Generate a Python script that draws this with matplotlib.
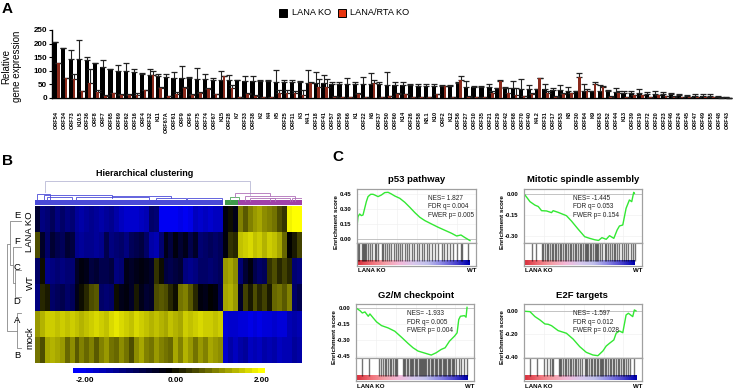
import numpy as np
import matplotlib
matplotlib.use('Agg')
import matplotlib.pyplot as plt
from matplotlib.colors import LinearSegmentedColormap

plt.rcParams['font.family'] = ['Liberation Sans', 'DejaVu Sans']

W, H = 733, 390

# panel A
genes = ['ORF54','ORF34','ORF73','K10.5','ORF36','ORF8','ORF7','ORF65','ORF69','ORF62','ORF16','ORF4','ORF32','K11',
         'ORF67A','ORF61','ORF9','ORF6','ORF75','ORF74','ORF67','K15','ORF28','K7','ORF33','ORF38','K2','K4','K5',
         'ORF25','ORF11','K3','K4.1','ORF18','ORF41','ORF57','ORF59','ORF66','K1','ORF22','K6','ORF37','ORF50',
         'ORF60','K14','ORF26','ORF58','K8.1','K10','ORF2','K12','ORF56','ORF27','ORF10','ORF35','ORF21','ORF29',
         'ORF42','ORF68','ORF70','ORF40','K4.2','ORF31','ORF17','ORF53','K8','ORF30','ORF64','K9','ORF63','ORF52',
         'ORF44','K13','ORF39','ORF19','ORF72','ORF20','ORF23','ORF46','ORF24','ORF45','ORF47','ORF49','ORF55',
         'ORF48','ORF43']
lana_ko = [205,182,145,143,140,128,115,105,100,100,97,88,85,80,78,75,74,72,70,70,68,68,66,65,63,62,62,62,60,60,59,58,
           56,55,55,53,52,52,52,50,50,50,48,48,47,46,45,45,45,44,43,55,41,40,40,40,35,35,35,34,33,32,32,30,28,27,27,27,
           26,26,24,23,20,18,18,16,15,14,13,10,8,8,8,7,3,3]
lana_rta = [128,72,70,25,55,22,8,18,12,10,12,28,83,35,7,15,35,12,17,33,14,80,35,3,15,8,3,2,20,20,18,12,55,40,40,5,3,3,
            15,3,55,3,7,15,14,4,2,2,14,43,2,68,5,3,3,20,62,18,10,8,15,73,20,5,15,17,78,25,52,40,5,20,3,10,10,4,10,6,5,
            3,3,4,4,3,1,1]
lana_ko_top = [207,183,175,212,150,130,140,107,122,130,107,93,105,88,90,97,117,78,110,90,74,98,83,68,82,80,68,68,103,
               68,66,62,103,95,83,57,60,75,60,77,92,58,94,60,57,53,50,50,53,46,46,58,62,43,43,52,35,40,62,70,46,32,50,
               38,46,40,27,50,26,48,30,37,25,25,32,22,27,22,20,14,11,14,14,13,6,5]
lana_rta_top = [130,75,90,27,105,30,10,20,15,14,20,30,100,40,8,22,40,14,22,38,16,82,48,4,18,10,4,3,30,30,24,30,57,70,
                70,7,4,4,17,4,66,4,8,17,16,5,3,3,16,45,3,80,6,4,4,27,66,38,37,9,17,75,25,7,17,20,92,32,57,45,6,25,4,12,
                12,5,12,8,6,4,4,5,5,4,2,1]

# panel B, rows top to bottom, columns in clustering order
row_e = [-.4,-1.0,-.9,-.7,-1.0,-.8,-1.0,-.9,-1.2,-1.3,-1.2,-1.1,-1.2,-1.3,-1.2,-1.1,-1.3,-1.5,-1.6,-1.6,-1.6,-1.5,-1.4,
         -.8,-.9,-1.9,-1.9,-1.9,-1.9,-1.8,-1.9,-1.8,-1.5,-1.6,-1.5,-1.6,-1.5,-1.5,
         -.1,.1,-.2,1.0,.7,1.0,1.2,1.3,1.1,1.0,.9,.6,.4,1.9,2.0,2.0]
row_f = [.6,-.3,-.8,-.4,-.6,-.7,-.4,-.5,-1.1,-1.2,-1.1,-1.1,-1.2,-1.1,-.6,-1.0,-.9,-.8,-1.0,-.7,-.6,-.5,-.8,-1.3,-1.4,
         -.9,-.2,-.5,-.1,-.4,-.2,-.6,-.3,-.9,-.8,-.7,-.8,-.7,
         -.1,.4,.3,1.5,1.6,1.7,1.5,1.6,1.4,1.6,1.5,1.3,.8,.0,.2,.5]
row_c = [-.8,.1,-1.1,-1.0,-.9,-1.0,-.9,-.9,-.3,-.1,-.2,-.5,-.4,-.6,-.6,-.5,-1.0,-.9,-.2,-.3,-.2,-.1,-.2,-.3,.4,.1,-.5,
         -.6,-.5,-.4,-1.0,-1.1,-1.0,-.8,-.8,-.9,-.8,-.7,
         1.2,1.3,1.1,-.9,-.4,-.1,-.6,-.8,-.7,.4,.6,.3,.5,.3,-.9,-1.0]
row_d = [-1.0,.3,.2,-.8,-.7,-.6,-.8,-.7,-.2,.1,.3,.6,.7,-.8,-.9,-.8,.1,-.2,-.1,-.3,.2,-.2,-.4,-.3,.6,.7,.6,.3,.1,.9,1.0,
         .7,.3,-.1,-.2,.0,-.1,-.6,
         1.3,1.4,1.2,-.3,.5,.2,.6,.3,.5,.2,.8,.9,.7,1.0,-.8,-.6]
row_a = [1.2,1.4,1.6,1.6,1.5,1.6,1.5,1.6,1.5,1.4,1.5,1.6,1.7,1.6,1.5,1.7,1.8,1.7,1.6,1.5,1.7,1.6,1.5,1.4,1.5,1.4,1.3,
         1.5,1.4,1.3,1.6,1.5,1.6,1.7,1.6,1.6,1.5,1.6,
         -1.7,-1.6,-1.6,-1.7,-1.7,-1.8,-1.7,-1.8,-1.7,-1.7,-1.6,-1.7,-1.7,-1.4,-1.3,-1.4]
row_b = [.9,.6,1.3,1.4,1.3,1.2,.8,1.1,.7,1.0,.8,1.0,.7,1.0,1.2,.9,.8,1.1,.9,.6,1.1,1.3,1.0,.9,1.2,1.0,.9,.8,1.3,1.0,1.4,
         1.2,.9,1.2,1.0,1.3,1.2,1.1,
         -1.6,-1.3,-1.5,-1.3,-1.2,-1.5,-1.4,-1.5,-1.3,-1.4,-1.3,-1.5,-1.4,-1.4,-1.2,-1.3]

# dendrogram brackets: left, right, height, left leg end, right leg end
top_links = [(1.5,43.0,24,13,10)]
blue_links = [(0,2.6,11,4,4),(1.3,15,9.5,4,8),(2,7,8,4,4),(7.8,22.6,7.5,4,4),(15,27,8.5,7,7),(24,30,7,4,4),(30.3,37.4,6.5,4,4)]
green_links = [(39,40.8,8,4,4)]
purple_links = [(40,47,11.5,8,9),(42,52,9,4,4),(43,48,7,4,4),(47,51,6.5,4,4),(51.5,53.8,7,4,4)]
# sample tree: top row, bottom row, depth, top leg end, bottom leg end
sample_links = [(2.45,3.47,3.5,5.5,5.5),(1.56,2.96,2.7,5.5,3.5),(.58,2.26,1.76,5.5,2.7),(4.1,5.44,4.3,5.5,5.5),
                (1.44,4.77,.6,1.76,4.3)]

# panel C
panels = ['p53 pathway','Mitotic spindle assembly','G2/M checkpoint','E2F targets']
nes_text = ['NES= 1.827\nFDR q= 0.004\nFWER p= 0.005','NES= -1.445\nFDR q= 0.053\nFWER p= 0.154',
            'NES= -1.933\nFDR q= 0.005\nFWER p= 0.004','NES= -1.597\nFDR q= 0.012\nFWER p= 0.028']
p53_rank = [0,1,3,8,13,18,23,28,33,41,48,53,63,73,83,93,103,113,128,143,158,173,188,203,223,243,263,283,298,311,323,338]
p53_es = [0,.16,.227,.253,.237,.243,.31,.377,.427,.45,.45,.443,.427,.443,.467,.47,.453,.433,.41,.37,.32,.267,.22,.187,
          .153,.12,.09,.06,.033,.043,.017,-.013]
p53_hits = [3,6,15,18,21,25,28,33,38,46,53,58,63,75,79,83,89,95,103,111,116,123,129,135,143,150,156,165,171,178,186,
            195,201,208,215,223,233,243,253,261,268,278,288,298,311,315,331]
mitotic_rank = [3,18,33,43,53,68,83,88,103,128,143,163,183,198,213,225,235,248,258,271,281,288,298,308,318,325,331,333]
mitotic_es = [-.007,-.055,-.08,-.09,-.12,-.122,-.134,-.12,-.132,-.156,-.194,-.252,-.307,-.319,-.329,-.334,-.314,-.326,
              -.30,-.319,-.259,-.23,-.223,-.103,-.043,-.055,.012,.005]
mitotic_hits = [25,36,53,58,63,68,73,78,83,88,93,98,103,108,113,118,123,128,133,138,143,148,153,158,163,168,173,178,
                183,186,189,193,198,203,208,213,216,219,223,228,235,243,248,253,258,265,271,275,281,288,295,301,308,
                315,323,329,334]
g2m_rank = [0,12,19,27,37,42,52,62,77,97,117,137,157,172,187,207,227,242,257,269,282,297,305,310,315,327,332,335]
g2m_es = [0,-.025,-.047,-.037,-.078,-.056,-.094,-.131,-.166,-.188,-.219,-.275,-.334,-.375,-.406,-.425,-.444,-.422,
          -.391,-.375,-.313,-.266,-.234,-.109,-.078,-.072,-.087,.006]
g2m_hits = [17,39,69,75,82,87,92,97,102,107,112,117,122,125,142,145,149,153,157,162,165,169,173,177,180,185,189,192,
            195,199,202,205,209,212,217,221,225,229,233,237,241,245,249,253,257,261,265,269,273,277,282,285,289,292,
            297,302,311,317,327,335]
e2f_rank = [3,18,33,48,63,73,83,103,128,148,168,188,208,223,238,248,258,271,278,288,298,308,315,328,333,338]
e2f_es = [0,-.003,-.046,-.075,-.11,-.113,-.125,-.168,-.191,-.241,-.307,-.357,-.38,-.386,-.345,-.302,-.278,-.249,-.191,
          -.171,-.186,-.032,-.017,-.046,.012,.003]
e2f_hits = [18,38,61,68,78,83,88,105,109,113,118,123,128,133,138,143,148,153,158,163,168,175,183,187,191,195,201,206,
            211,215,219,223,228,231,235,239,243,247,253,258,263,268,273,278,283,288,293,299,303,309,315,321,331]


def ax_px(x0, y0, x1, y1):
    # axes placed by image pixels, y measured from the top
    return plt.gcf().add_axes([x0 / W, 1 - y1 / H, (x1 - x0) / W, (y1 - y0) / H])


def txt(x, y, s, **kw):
    kw.setdefault('ha', 'center')
    kw.setdefault('va', 'center')
    plt.gcf().text(x / W, 1 - y / H, s, **kw)


fig = plt.figure(figsize=(W / 100, H / 100), dpi=100)

txt(2, 9, 'A', fontsize=11, fontweight='bold', ha='left')
txt(2, 161, 'B', fontsize=11, fontweight='bold', ha='left')
txt(332, 157, 'C', fontsize=11, fontweight='bold', ha='left')

# A: bars
ax = ax_px(52, 30, 731, 98)
x = np.arange(len(genes))
step = 7.894
ax.set_xlim(-4 / step, 85 + 4 / step)
ax.set_ylim(0, 250)
ko_x = x - 0.1
rta_x = x + 0.28
ko = np.array(lana_ko)
rta = np.array(lana_rta)
ax.bar(ko_x, ko, width=0.55, color='black', zorder=2)
ax.errorbar(ko_x, ko, yerr=[np.zeros(len(ko)), np.array(lana_ko_top) - ko], fmt='none', ecolor='#222222',
            elinewidth=0.8, capsize=2.1, capthick=0.9, zorder=3, clip_on=False)
ax.bar(rta_x, rta, width=0.34, color='#8a2a1c', zorder=4)
ax.errorbar(rta_x, rta, yerr=[np.zeros(len(rta)), np.array(lana_rta_top) - rta], fmt='none', ecolor='#222222',
            elinewidth=0.8, capsize=2.1, capthick=0.9, zorder=3, clip_on=False)
for s in ['top', 'right']:
    ax.spines[s].set_visible(False)
ax.spines['left'].set_linewidth(1.0)
ax.spines['bottom'].set_linewidth(1.0)
ax.set_yticks([0, 50, 100, 150, 200, 250])
ax.tick_params(axis='y', labelsize=5.8, length=2, width=0.8, pad=1.5)
for lab in ax.get_yticklabels():
    lab.set_fontweight('bold')
ax.set_xticks(x)
ax.set_xticklabels(genes, rotation=90, fontsize=4.0, fontweight='bold')
ax.tick_params(axis='x', length=0, pad=9.5)
txt(6, 66, 'Relative', rotation=90, fontsize=7)
txt(17, 66, 'gene expression', rotation=90, fontsize=7)

# A: legend
leg = ax_px(0, 0, W, H)
leg.set_xlim(0, W)
leg.set_ylim(H, 0)
leg.axis('off')
leg.patch.set_alpha(0)
leg.add_patch(plt.Rectangle((278.5, 8.5), 8, 8, fc='black', ec='black', lw=0.7))
leg.add_patch(plt.Rectangle((337.5, 8.5), 8, 8, fc='#e8340f', ec='black', lw=0.7))
txt(292, 12.5, 'LANA KO', fontsize=6.6, ha='left')
txt(350, 12.5, 'LANA/RTA KO', fontsize=6.6, ha='left')

# B: heatmap
heat_cmap = LinearSegmentedColormap.from_list('heat', ['#0000ff', '#000000', '#ffff00'])
heat = np.array([row_e, row_f, row_c, row_d, row_a, row_b])
hx = ax_px(35, 206, 302, 363)
hx.imshow(heat, aspect='auto', cmap=heat_cmap, vmin=-2, vmax=2, interpolation='nearest')
hx.axis('off')

# B: gene dendrogram
dx = ax_px(35, 178, 302, 204.5)
dx.set_xlim(-0.5, 53.5)
dx.set_ylim(0, 26.5)
dx.axis('off')
def links(rows, color, lw=0.6):
    for l, r, h, a, b in rows:
        dx.plot([l, l, r, r], [a, h, h, b], color=color, lw=lw, solid_joinstyle='miter')
dx.bar(18.5, 4.5, width=38, color='#4a4ad8')
dx.bar(39.5, 4.5, width=3, color='#3f9a4a')
dx.bar(47, 4.5, width=13, color='#a040a8')
links(top_links, '#b9b9d6')
links(blue_links, '#4a4ad8')
links(green_links, '#4fa85a')
links(purple_links, '#b070b8')

# B: sample dendrogram, same rows as the heatmap
sx = ax_px(5, 206, 22, 363)
sx.set_ylim(6, 0)
sx.set_xlim(0, 6)
sx.axis('off')
for top, bot, depth, top_end, bot_end in sample_links:
    sx.plot([top_end, depth, depth, bot_end], [top, top, bot, bot], color='#888888', lw=0.6)
for name, row in zip('EFCDAB', [0.25, 1.25, 2.25, 3.55, 4.25, 5.6]):
    txt(17, 206 + row * 157 / 6 + 3, name, fontsize=6.8)
txt(30, 232, 'LANA KO', rotation=90, fontsize=6.8)
txt(30, 283, 'WT', rotation=90, fontsize=6.8)
txt(30, 338, 'mock', rotation=90, fontsize=6.8)
txt(144.5, 174, 'Hierarchical clustering', fontsize=6.5, fontweight='bold')

# B: colour bar
cb = ax_px(73, 368, 265, 373)
cb.imshow(np.linspace(-2, 2, 29)[None, :], aspect='auto', cmap=heat_cmap, vmin=-2, vmax=2)
cb.axis('off')
for px, s in zip([85, 176, 262], ['-2.00', '0.00', '2.00']):
    txt(px, 381, s, fontsize=5.8, fontweight='bold')

# C: enrichment plots
strip_cmap = LinearSegmentedColormap.from_list('strip', ['#d8303c', '#f07078', '#f5a0a8', '#f4b8d8', '#d8c8ec',
                                                         '#c0c0ec', '#8c88e4', '#5048d0', '#0000b0'])
curves = [(p53_rank, p53_es, p53_hits), (mitotic_rank, mitotic_es, mitotic_hits),
          (g2m_rank, g2m_es, g2m_hits), (e2f_rank, e2f_es, e2f_hits)]
frames = [(357, 189, 476, 266), (524, 189, 642, 266), (356, 304, 474, 381), (524, 304, 642, 381)]
zero_px = [239.3, 194, 308, 311.3]
per_unit = [100, 139, 106, 115]
ticks = [[0, .15, .30, .45], [0, -.15, -.30], [0, -.15, -.30, -.45], [0, -.20, -.40]]
title_x = [417, 583, 416, 582]
text_x = [428, 573, 407, 573]
label_x = [337, 503, 334, 503]

for i in range(4):
    x0, y0, x1, y1 = frames[i]
    split = y0 + (y1 - y0) * 0.705
    rank, es, hits = curves[i]
    top = ax_px(x0, y0, x1, split)
    top.set_xlim(0, 356)
    top.set_ylim((zero_px[i] - split) / per_unit[i], (zero_px[i] - y0) / per_unit[i])
    top.grid(color='#eeeeee', lw=0.4)
    top.set_axisbelow(True)
    top.set_xticks([60, 120, 180, 240, 300])
    top.axhline(0, color='#bbbbbb', lw=0.6)
    top.plot(rank, es, color='#33e833', lw=1.0)
    top.set_yticks(ticks[i])
    top.set_yticklabels(['%.2f' % t for t in ticks[i]], fontsize=4.2, fontweight='bold')
    top.tick_params(axis='y', length=0, pad=4)
    top.tick_params(axis='x', length=0, labelbottom=False)
    for s in top.spines.values():
        s.set_color('#a0a0a0')
        s.set_linewidth(0.9)
    low = ax_px(x0, split, x1, y1)
    low.set_xlim(0, 356)
    low.set_ylim(0, 1)
    low.vlines(hits, 0.24, 1, color='black', lw=1.0, alpha=0.55)
    low.imshow(np.linspace(0, 1, 60)[None, :], cmap=strip_cmap, aspect='auto', extent=(0, rank[-1], 0.03, 0.22))
    low.set_xlim(0, 356)
    low.set_ylim(0, 1)
    low.set_xticks([])
    low.set_yticks([])
    for s in low.spines.values():
        s.set_color('#a0a0a0')
        s.set_linewidth(0.9)
    txt(title_x[i], y0 - 9, panels[i], fontsize=6.8, fontweight='bold')
    txt(label_x[i], (y0 + split + 12) / 2, 'Enrichment score', rotation=90, fontsize=4.6, fontweight='bold')
    txt(text_x[i], y0 + 18, nes_text[i], fontsize=4.7, ha='left', color='#222222', linespacing=1.25)
    txt(x0 + 1, y1 + 5, 'LANA KO', fontsize=4.4, fontweight='bold', ha='left')
    txt(x1, y1 + 5, 'WT', fontsize=4.4, fontweight='bold', ha='right')

fig.savefig('out.png', dpi=100)
